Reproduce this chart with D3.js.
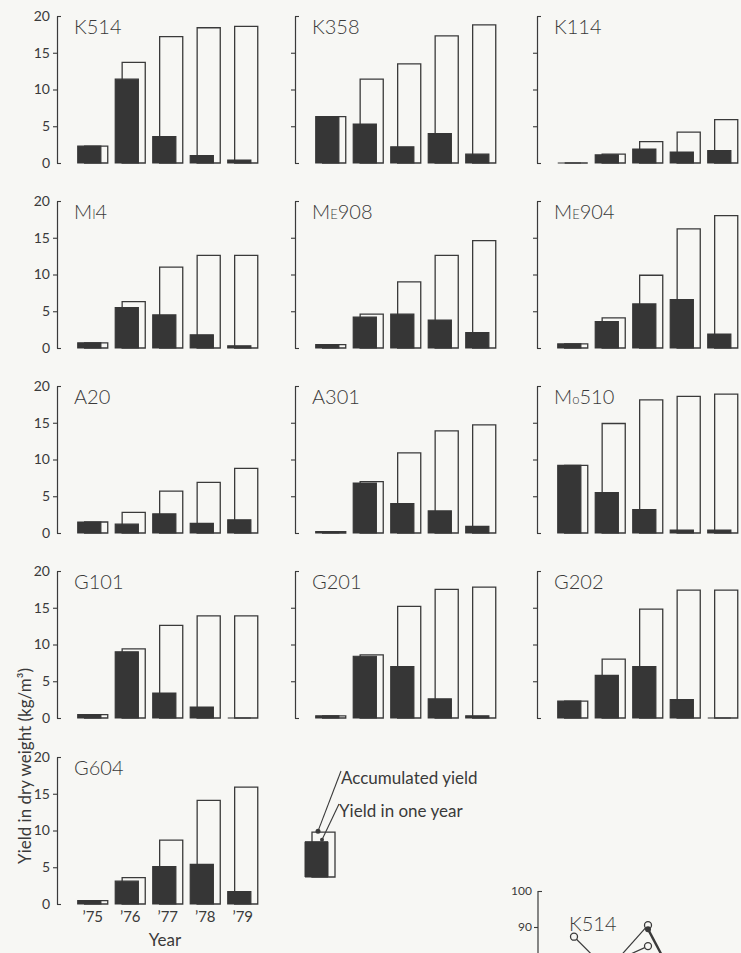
<!DOCTYPE html>
<html>
<head>
<meta charset="utf-8">
<script src="https://cdnjs.cloudflare.com/ajax/libs/d3/7.8.5/d3.min.js"></script>
<style>
    body { margin: 0; background: #f7f7f4; }
    svg { display: block; font-family: Lato, "DejaVu Sans", sans-serif; color: #333; }
</style>
</head>
<body>
<svg id="chart" width="741" height="953"></svg>
<script>
// years on the x axis
var years = ["’75", "’76", "’77", "’78", "’79"];

// clone names, as [big letters, small letter, rest]
var cloneTitles = [
    ["K514"], ["K358"], ["K114"],
    ["M", "I", "4"], ["M", "E", "908"], ["M", "E", "904"],
    ["A20"], ["A301"], ["M", "o", "510"],
    ["G101"], ["G201"], ["G202"],
    ["G604"]
];

// yield in one year (kg/m3), same order as cloneTitles
var yearlyYield = [
    [2.3, 11.4, 3.6, 1.0, 0.4],
    [6.3, 5.3, 2.2, 4.0, 1.2],
    [0, 1.1, 1.9, 1.5, 1.7],
    [0.7, 5.5, 4.5, 1.8, 0.3],
    [0.45, 4.2, 4.6, 3.8, 2.1],
    [0.55, 3.6, 6.0, 6.6, 1.9],
    [1.5, 1.2, 2.6, 1.3, 1.8],
    [0.2, 6.8, 4.0, 3.0, 0.9],
    [9.2, 5.5, 3.2, 0.4, 0.4],
    [0.45, 9.0, 3.4, 1.5, 0],
    [0.3, 8.4, 7.0, 2.6, 0.3],
    [2.3, 5.8, 7.0, 2.5, 0],
    [0.45, 3.1, 5.1, 5.4, 1.7]
];

// accumulated yield (kg/m3)
var accumulatedYield = [
    [2.3, 13.7, 17.2, 18.4, 18.6],
    [6.3, 11.4, 13.5, 17.3, 18.8],
    [0, 1.2, 2.9, 4.2, 5.9],
    [0.7, 6.3, 11.0, 12.6, 12.6],
    [0.45, 4.6, 9.0, 12.6, 14.6],
    [0.55, 4.1, 9.9, 16.2, 18.0],
    [1.5, 2.8, 5.7, 6.9, 8.8],
    [0.2, 7.0, 10.9, 13.9, 14.7],
    [9.2, 14.9, 18.1, 18.6, 18.9],
    [0.45, 9.4, 12.6, 13.9, 13.9],
    [0.3, 8.6, 15.2, 17.5, 17.8],
    [2.3, 8.0, 14.8, 17.4, 17.4],
    [0.45, 3.6, 8.7, 14.1, 15.9]
];

var yTicks = [0, 5, 10, 15, 20];

// legend sample bar
var legendYearly = 4.8,
    legendAccum = 6.1;

// start of the next figure (cut off at the bottom)
var survTicks = [90, 100];
var survOpenA = [87.3, 77, null, null, null],
    survOpenB = [null, 79, 90.5, null, null],
    survOpenC = [null, 80, 84.7, null, null],
    survFilled = [null, null, 89.4, 70, null];

var ink = "#3a3a3a";
var svg = d3.select("#chart");

var colX = [57, 295, 537],
    rowY = [163, 348, 533, 718, 904],
    plotH = 147;

function rectPath(x0, x1, yTop, yBot) {
    return "M" + x0 + "," + yBot + "V" + yTop + "H" + x1 + "V" + yBot + "Z";
}

function create_panel(i) {
    var col = i % 3,
        row = Math.floor(i / 3),
        ax = colX[col],
        zeroY = rowY[row];

    var y = d3.scaleLinear().domain([0, 20]).range([zeroY, zeroY - plotH]);
    var x = d3.scaleBand()
        .domain(years)
        .range([ax + 17, ax + 204.5])
        .paddingInner(0.2)
        .paddingOuter(0.1);
    var bw = x.bandwidth(),
        shift = bw * 0.23;

    var g = svg.append("g").attr("class", "panel");

    var axis = d3.axisLeft(y)
        .tickValues(yTicks)
        .tickSize(4)
        .tickSizeOuter(0)
        .tickFormat(col === 0 ? d3.format("d") : "");

    var gy = g.append("g")
        .attr("transform", "translate(" + ax + ",0)")
        .call(axis);
    gy.attr("font-family", null).attr("font-size", null);
    gy.select(".domain").attr("stroke", ink).attr("stroke-width", 1.2);
    gy.selectAll(".tick line").attr("stroke", ink).attr("stroke-width", 1.1)
        .attr("x2", function(d) { return (d === 0 || d === 20) ? 4 : -4; });
    gy.selectAll(".tick text")
        .attr("x", -7)
        .style("font-size", "14px")
        .attr("fill", ink);

    // accumulated (open) bars behind
    g.selectAll(".acc")
        .data(accumulatedYield[i])
        .enter().append("path")
        .attr("class", "acc")
        .attr("d", function(d, j) {
            var x0 = x(years[j]) + shift;
            return rectPath(x0, x0 + bw - shift, y(d), y(0));
        })
        .attr("fill", "#f7f7f4")
        .attr("stroke", ink)
        .attr("stroke-width", 1.3);

    // yield in one year (dark) bars
    g.selectAll(".year")
        .data(yearlyYield[i])
        .enter().append("path")
        .attr("class", "year")
        .attr("d", function(d, j) {
            var x0 = x(years[j]);
            return rectPath(x0, x0 + bw - shift, y(d), y(0));
        })
        .attr("fill", "#363636")
        .attr("stroke", "#363636")
        .attr("stroke-width", 1.2);

    var title = g.append("text")
        .attr("x", ax + 17)
        .attr("y", y(20) + 18)
        .attr("fill", ink)
        .style("font-size", "20px")
        .style("font-weight", 300);
    var parts = cloneTitles[i];
    title.append("tspan").text(parts[0]);
    if (parts.length > 1) {
        title.append("tspan").style("font-size", "13px").text(parts[1]);
        title.append("tspan").text(parts[2]);
    }

    if (i === cloneTitles.length - 1) {
        g.selectAll(".yr")
            .data(years)
            .enter().append("text")
            .attr("x", function(d) { return x(d) + bw / 2; })
            .attr("y", zeroY + 18)
            .attr("text-anchor", "middle")
            .attr("fill", ink)
            .style("font-size", "15px")
            .text(function(d) { return d; });

        g.append("text")
            .attr("x", ax + 108)
            .attr("y", zeroY + 42)
            .attr("text-anchor", "middle")
            .attr("fill", ink)
            .style("font-size", "17px")
            .text("Year");
    }
}

function create_legend() {
    var base = 877, left = 305;
    var y = d3.scaleLinear().domain([0, 20]).range([base, base - plotH]);
    var lg = svg.append("g").attr("class", "legend");

    lg.append("path")
        .attr("d", rectPath(left + 7, left + 30, y(legendAccum), base))
        .attr("fill", "#f7f7f4").attr("stroke", ink).attr("stroke-width", 1.3);
    lg.append("path")
        .attr("d", rectPath(left, left + 23, y(legendYearly), base))
        .attr("fill", "#363636").attr("stroke", "#363636");

    lg.append("circle").attr("cx", left + 13).attr("cy", y(legendAccum) - 1).attr("r", 2.5).attr("fill", ink);
    lg.append("circle").attr("cx", left + 17).attr("cy", y(legendYearly) - 2).attr("r", 2).attr("fill", ink);

    lg.append("path")
        .attr("d", "M" + (left + 13) + "," + (y(legendAccum) - 1) + "L" + (left + 36) + "," + 771)
        .attr("stroke", ink).attr("stroke-width", 1.1).attr("fill", "none");
    lg.append("path")
        .attr("d", "M" + (left + 17) + "," + (y(legendYearly) - 2) + "L" + (left + 34) + "," + 804)
        .attr("stroke", ink).attr("stroke-width", 1.1).attr("fill", "none");

    lg.append("text").attr("x", left + 36).attr("y", 784)
        .attr("fill", ink).style("font-size", "17px").text("Accumulated yield");
    lg.append("text").attr("x", left + 34).attr("y", 817)
        .attr("fill", ink).style("font-size", "17px").text("Yield in one year");
}

function create_ylabel() {
    svg.append("text")
        .attr("transform", "translate(31,766) rotate(-90)")
        .attr("text-anchor", "middle")
        .attr("fill", ink)
        .style("font-size", "17px")
        .text("Yield in dry weight (kg/m³)");
}

function create_survival() {
    var ax = 538;
    var y = d3.scaleLinear().domain([90, 100]).range([927, 891]);
    var x = d3.scalePoint().domain(years).range([574, 722]);
    var g = svg.append("g").attr("class", "surv");

    var axis = d3.axisLeft(y).tickValues(survTicks).tickSize(4).tickSizeOuter(0);
    var gy = g.append("g").attr("transform", "translate(" + ax + ",0)").call(axis);
    gy.attr("font-family", null).attr("font-size", null);
    gy.select(".domain").attr("d", "M0," + y(100) + "V960").attr("stroke", ink).attr("stroke-width", 1.2);
    gy.selectAll(".tick line").attr("stroke", ink).attr("stroke-width", 1.1)
        .attr("x2", function(d) { return d === 100 ? 4 : -4; });
    gy.selectAll(".tick text").attr("x", -6).style("font-size", "12px").attr("fill", ink);

    g.append("text").attr("x", 569).attr("y", 931)
        .attr("fill", ink).style("font-size", "20px").style("font-weight", 300).text("K514");

    var line = d3.line()
        .defined(function(d) { return d !== null; })
        .x(function(d, j) { return x(years[j]); })
        .y(function(d) { return y(d); });

    [[survOpenA, 1.2], [survOpenB, 1.2], [survOpenC, 1.2], [survFilled, 2.4]].forEach(function(s) {
        g.append("path").attr("d", line(s[0]))
            .attr("fill", "none").attr("stroke", ink).attr("stroke-width", s[1]);
    });

    [survOpenA, survOpenB, survOpenC].forEach(function(s) {
        g.selectAll(null)
            .data(s.map(function(d, j) { return [d, j]; }).filter(function(d) { return d[0] !== null && y(d[0]) < 953; }))
            .enter().append("circle")
            .attr("cx", function(d) { return x(years[d[1]]); })
            .attr("cy", function(d) { return y(d[0]); })
            .attr("r", 3.5)
            .attr("fill", "#f7f7f4").attr("stroke", ink).attr("stroke-width", 1.3);
    });
    g.selectAll(null)
        .data(survFilled.map(function(d, j) { return [d, j]; }).filter(function(d) { return d[0] !== null && y(d[0]) < 953; }))
        .enter().append("circle")
        .attr("cx", function(d) { return x(years[d[1]]); })
        .attr("cy", function(d) { return y(d[0]); })
        .attr("r", 3)
        .attr("fill", ink);
}

cloneTitles.forEach(function(d, i) { create_panel(i); });
create_legend();
create_ylabel();
create_survival();
</script>
</body>
</html>
